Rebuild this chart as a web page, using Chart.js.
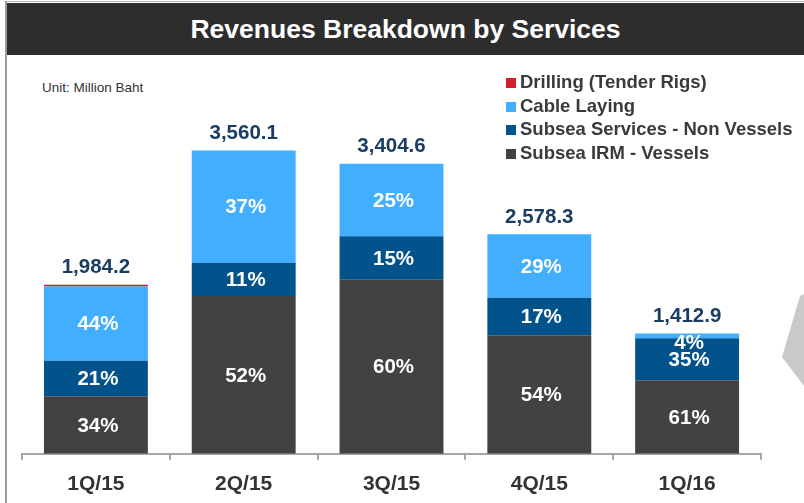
<!DOCTYPE html>
<html>
<head>
<meta charset="utf-8">
<script src="https://cdn.jsdelivr.net/npm/chart.js@4.4.0/dist/chart.umd.min.js"></script>
<style>
  html, body { margin: 0; padding: 0; background: #fff; }
  body { width: 804px; height: 503px; position: relative; overflow: hidden; font-family: "Liberation Sans", Arial, sans-serif; }
  #frame { position: absolute; left: 5px; top: 1px; right: -2px; bottom: -2px; border-left: 2px solid #9c9c9c; border-top: 1px solid #b0b0b0; }
  #title { position: absolute; left: 7px; top: 3px; right: 0; height: 52px; background: #2d2d2d; color: #fff;
           font-weight: bold; font-size: 26.5px; line-height: 52px; text-align: center; }
  #unit { position: absolute; left: 42px; top: 80px; font-size: 13.5px; color: #333; }
  #legend { position: absolute; left: 506px; top: 70px; font-weight: bold; font-size: 18.5px; color: #3a3a3a; }
  #legend .row { height: 23.7px; line-height: 23.7px; white-space: nowrap; }
  #legend .sw { display: inline-block; width: 10px; height: 10px; margin-right: 4px; vertical-align: 0px; }
  #chartBox { position: absolute; left: 0; top: 0; width: 804px; height: 517px; }
  #arrow { position: absolute; left: 0; top: 0; }
</style>
</head>
<body>
<div id="frame"></div>
<div id="title">Revenues Breakdown by Services</div>
<div id="unit">Unit: Million Baht</div>
<svg id="arrow" width="804" height="503"><polygon points="782,357 800,296 804,294 804,386" fill="#c9c9c9"/></svg>
<div id="chartBox"><canvas id="chart" width="804" height="517"></canvas></div>
<div id="legend"></div>
<script>
// data
const quarters = ['1Q/15', '2Q/15', '3Q/15', '4Q/15', '1Q/16'];
const totals = [1984.2, 3560.1, 3404.6, 2578.3, 1412.9];
const vesselsPct = [34, 52, 60, 54, 61];
const nonVesselsPct = [21, 11, 15, 17, 35];
const cablePct = [44, 37, 25, 29, 4];
const drillingPct = [1, 0, 0, 0, 0];

const pctSets = [vesselsPct, nonVesselsPct, cablePct, drillingPct];
const toValues = (pcts) => pcts.map((p, i) => totals[i] * p / 100);

const FONT = '"Liberation Sans", Arial, sans-serif';

const labelPlugin = {
  id: 'barLabels',
  afterDatasetsDraw(chart) {
    const ctx = chart.ctx;
    ctx.save();
    ctx.textAlign = 'center';
    ctx.textBaseline = 'middle';
    ctx.font = 'bold 20.5px ' + FONT;
    ctx.fillStyle = '#ffffff';
    [0, 1, 2].forEach(d => {
      chart.getDatasetMeta(d).data.forEach((bar, i) => {
        const top = Math.min(bar.y, bar.base);
        const bottom = Math.max(bar.y, bar.base);
        let y = (top + bottom) / 2 + 1;
        if (bottom - top < 20) y = top + 10;
        ctx.fillText(pctSets[d][i] + '%', bar.x + 2, y);
      });
    });
    // totals above each stack
    ctx.fillStyle = '#1a3d63';
    chart.getDatasetMeta(3).data.forEach((bar, i) => {
      const txt = totals[i].toLocaleString('en-US', { minimumFractionDigits: 1 });
      ctx.fillText(txt, bar.x, bar.y - 17);
    });
    ctx.restore();
  }
};

const chart = new Chart(document.getElementById('chart'), {
  type: 'bar',
  data: {
    labels: quarters,
    datasets: [
      { label: 'Subsea IRM - Vessels', data: toValues(vesselsPct), backgroundColor: '#424242' },
      { label: 'Subsea Services - Non Vessels', data: toValues(nonVesselsPct), backgroundColor: '#02528c' },
      { label: 'Cable Laying', data: toValues(cablePct), backgroundColor: '#42aeff' },
      { label: 'Drilling (Tender Rigs)', data: toValues(drillingPct), backgroundColor: '#d0202e' }
    ]
  },
  options: {
    responsive: false,
    animation: false,
    events: [],
    layout: { padding: { left: 22, right: 43, top: 113, bottom: 8 } },
    datasets: { bar: { categoryPercentage: 1, barPercentage: 0.703, borderWidth: 0 } },
    plugins: { legend: { display: false }, tooltip: { enabled: false } },
    scales: {
      x: {
        stacked: true,
        grid: { display: true, drawOnChartArea: false, drawTicks: true, tickLength: 6, offset: true, color: '#a6a6a6', lineWidth: 2 },
        border: { display: true, color: '#a6a6a6', width: 2 },
        ticks: { color: '#333333', padding: 12, font: { family: FONT, size: 21, weight: 'bold' } }
      },
      y: { stacked: true, display: false, min: 0, max: 4000 }
    }
  },
  plugins: [labelPlugin]
});

// legend built from the chart datasets (top of stack first)
const legend = document.getElementById('legend');
chart.data.datasets.slice().reverse().forEach(ds => {
  const row = document.createElement('div');
  row.className = 'row';
  const sw = document.createElement('span');
  sw.className = 'sw';
  sw.style.background = ds.backgroundColor;
  row.appendChild(sw);
  row.appendChild(document.createTextNode(ds.label));
  legend.appendChild(row);
});
</script>
</body>
</html>
